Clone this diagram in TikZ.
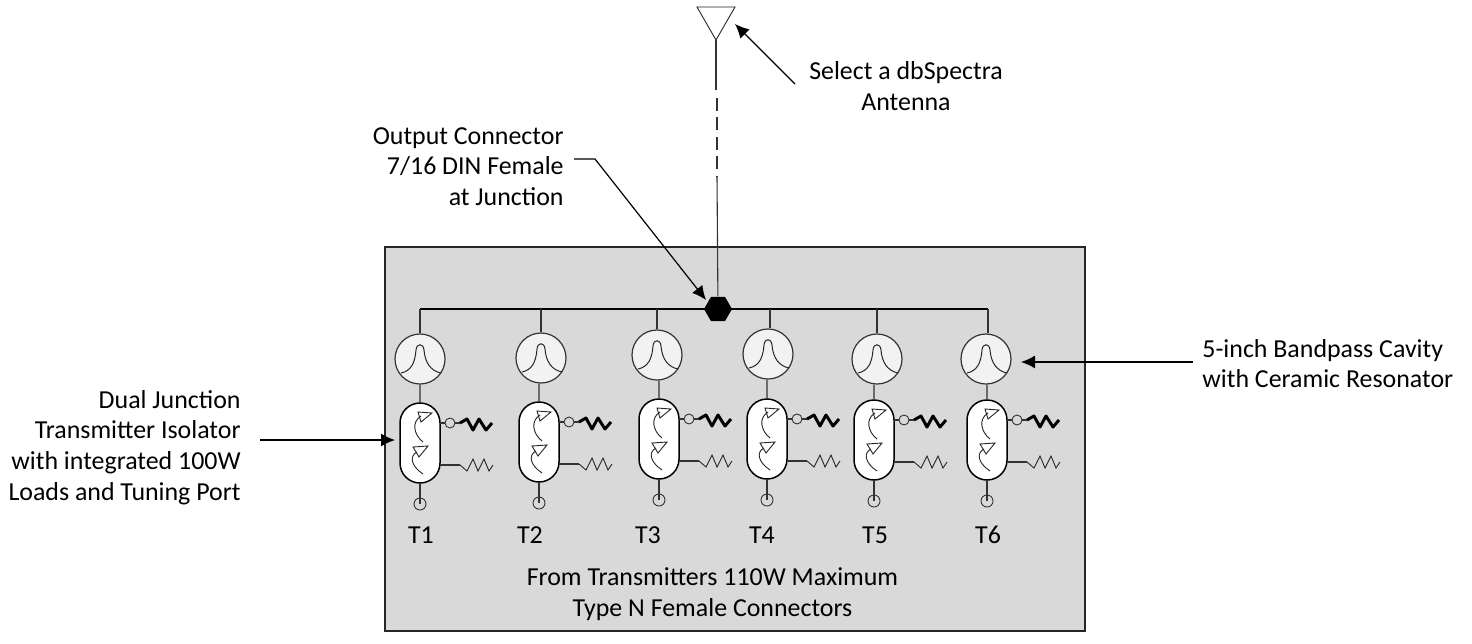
\documentclass[tikz,border=0pt]{standalone}
\usepackage{fontspec}
\setmainfont{Carlito}
\usetikzlibrary{arrows.meta,shapes.geometric,shapes.misc}
\definecolor{panelgray}{HTML}{D9D9D9}
\definecolor{cavitygray}{HTML}{F2F2F2}
\tikzset{
  callout/.style={-{Latex[length=7pt,width=6.5pt]}, line width=0.6pt},
  wire/.style={black!80, line width=0.55pt},
  lbl/.style={font=\fontsize{12.95pt}{15.4pt}\selectfont, inner sep=0pt},
  termcircle/.style={circle, draw=black!80, line width=0.45pt, minimum size=6pt, inner sep=0pt},
  cavity/.style={circle, draw=black!80, fill=cavitygray, line width=0.6pt, minimum size=25pt, inner sep=0pt},
  isolator/.style={rounded rectangle, rounded rectangle arc length=180, draw=black, fill=white, line width=0.75pt, minimum width=40pt, minimum height=20pt, inner sep=0pt, rotate=90},
  thinline/.style={line width=0.45pt, black!85},
}
\begin{document}
\begin{tikzpicture}[x=0.5pt,y=-0.5pt]
\useasboundingbox (0,0) rectangle (1472,643);
% Panel
\node[draw=black!85, fill=panelgray, line width=0.6pt, minimum width=350pt, minimum height=192pt, inner sep=0pt] (panel) at (735,439) {};

% Antenna
\coordinate (anttip) at (716,40);
\draw[thinline] (697,7) -- (735,7) -- (anttip) -- cycle;
\coordinate (antlow) at (716,90);
\coordinate (dashtop) at (717,98);
\coordinate (dashlow) at (717,177);
\draw[wire] (anttip) -- (antlow);
\draw[wire, dash pattern=on 6.5pt off 3.2pt] (dashtop) -- (dashlow);

% Output junction
\node[regular polygon, regular polygon sides=6, fill=black, minimum size=14pt, inner sep=0pt] (junction) at (718,309) {};
\draw[wire] (dashlow) -- (junction);

% Bus
\coordinate (busleft) at (420,309);
\coordinate (busright) at (988,309);
\draw[wire, black] (busleft) -- (busright);

% One branch per transmitter
\foreach \name/\bx/\cx/\cy/\ix/\iy/\lx in {1/420/420/359/420/443/421, 2/541/541/358/539/442/530, 3/657/657/355/659/439/648, 4/770/768/354/767/439/762, 5/877/877/359/874/440/875, 6/988/986/359/987/440/988} {
    \coordinate (bus\name) at (\bx,309);
    \node[cavity] (cav\name) at (\cx,\cy) {};
    \draw[wire] (bus\name) -- (bus\name |- cav\name.north);
    \begin{scope}[shift={(\cx,\cy)}]
        \draw[line width=0.5pt, black!85] (-19,14) .. controls (-9,12) and (-5,4) .. (-4,-9) .. controls (-3.5,-16) and (3.5,-16) .. (4,-9) .. controls (5,4) and (11,12) .. (21,14);
    \end{scope}
    \node[isolator] (iso\name) at (\ix,\iy) {};
    \draw[wire] (iso\name.center |- cav\name.south) -- (iso\name);
    % Circulator arrows
    \begin{scope}[shift={(\ix,\iy)}]
        \draw[thinline] (-2,-31) -- (12,-30) -- (1,-21) -- cycle;
        \draw[thinline] (1,-27) .. controls (-9,-21) and (-6,-8) .. (3,-1);
        \draw[thinline] (-7,4) -- (8,3) -- (-1,14) -- cycle;
        \draw[thinline] (-3,9) .. controls (-11,13) and (-9,23) .. (3,31);
    \end{scope}
    % Tuning port
    \node[termcircle] (port\name) at (\ix,\iy+61) {};
    \draw[wire] (iso\name) -- (port\name.center);
    % Loads
    \node[termcircle, minimum size=5pt] (tap\name) at (\ix+30,\iy-20) {};
    \coordinate (edgeA\name) at (\ix+20,\iy-20);
    \coordinate (edgeB\name) at (\ix+20,\iy+22);
    \coordinate (loadA\name) at (\ix+40,\iy-20);
    \coordinate (loadB\name) at (\ix+40,\iy+22);
    \draw[wire] (edgeA\name) -- (tap\name);
    \draw[wire] (tap\name) -- (loadA\name);
    \draw[wire] (edgeB\name) -- (loadB\name);
    \draw[line width=1.5pt, line join=round] (loadA\name) -- ++(7,-4) -- ++(6,11) -- ++(6,-11) -- ++(7,11) -- ++(6,-7);
    \draw[thinline] (loadB\name) -- ++(7,6) -- ++(6,-12) -- ++(5,12) -- ++(6,-12) -- ++(5,12) -- ++(4,-6);
    \node[lbl, anchor=base] (lab\name) at (\lx,543) {T\name};
}

% Labels
\node[lbl, align=center] (txantenna) at (906,86) {Select a dbSpectra\\Antenna};
\node[lbl, align=right, anchor=east] (txoutput) at (564,166.5) {Output Connector\\7/16 DIN Female\\at Junction};
\node[lbl, align=left, anchor=west] (txcavity) at (1202,363.5) {5-inch Bandpass Cavity\\with Ceramic Resonator};
\node[lbl, align=right, anchor=east] (txisolator) at (241,447.5) {Dual Junction\\Transmitter Isolator\\with integrated 100W\\Loads and Tuning Port};
\node[lbl, align=center] (txfrom) at (712.5,594) {From Transmitters 110W Maximum\\Type N Female Connectors};

% Callouts
\coordinate (antfrom) at (795,84);
\coordinate (antto) at (735,24);
\draw[callout] (antfrom) -- (antto);
\coordinate (outstart) at (574,159);
\coordinate (outelbow) at (595,159);
\coordinate (outto) at (706,300);
\draw[callout] (outstart) -- (outelbow) -- (outto);
\coordinate (cavfrom) at (1193,362);
\coordinate (cavto) at (1021,362);
\draw[callout] (cavfrom) -- (cavto);
\coordinate (isofrom) at (260,440);
\coordinate (isoto) at (395,440);
\draw[callout] (isofrom) -- (isoto);
\end{tikzpicture}
\end{document}
